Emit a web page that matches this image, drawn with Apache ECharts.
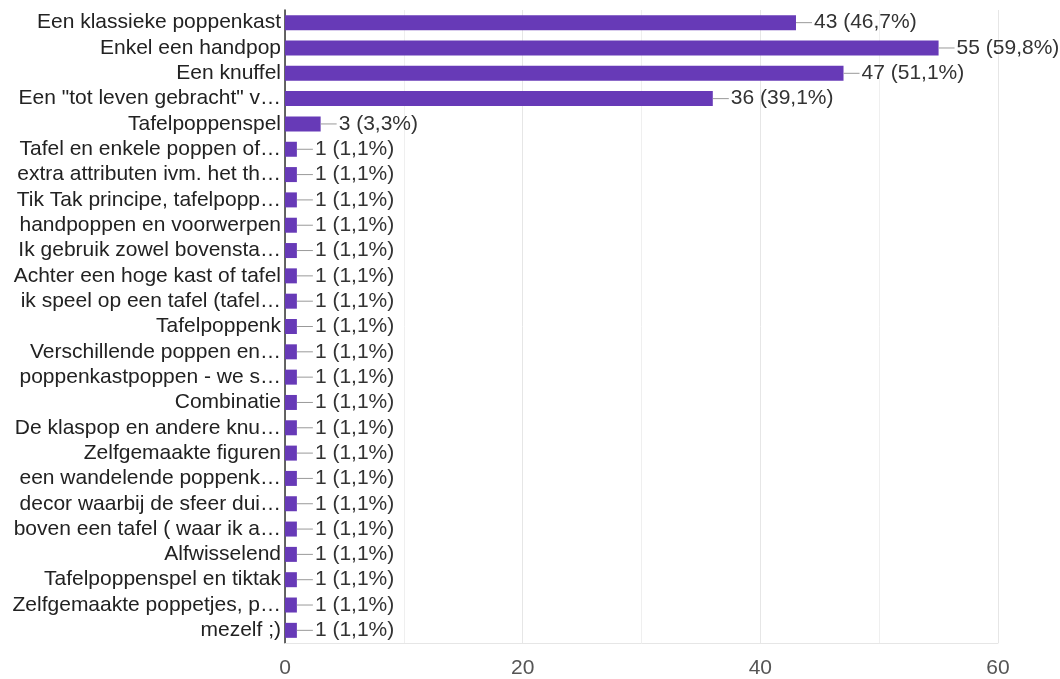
<!DOCTYPE html>
<html>
<head>
<meta charset="utf-8">
<script src="https://cdn.jsdelivr.net/npm/echarts@6/dist/echarts.min.js"></script>
<style>
  html, body { margin: 0; padding: 0; background: #fff; }
  #chart { width: 1060px; height: 679px; }
</style>
</head>
<body>
<div id="chart"></div>
<script>
// antwoorden (zoals ze in de grafiek staan, ingekort met …)
var categories = [
  'Een klassieke poppenkast',
  'Enkel een handpop',
  'Een knuffel',
  'Een "tot leven gebracht" v…',
  'Tafelpoppenspel',
  'Tafel en enkele poppen of…',
  'extra attributen ivm. het th…',
  'Tik Tak principe, tafelpopp…',
  'handpoppen en voorwerpen',
  'Ik gebruik zowel bovensta…',
  'Achter een hoge kast of tafel',
  'ik speel op een tafel (tafel…',
  'Tafelpoppenk',
  'Verschillende poppen en…',
  'poppenkastpoppen - we s…',
  'Combinatie',
  'De klaspop en andere knu…',
  'Zelfgemaakte figuren',
  'een wandelende poppenk…',
  'decor waarbij de sfeer dui…',
  'boven een tafel ( waar ik a…',
  'Alfwisselend',
  'Tafelpoppenspel en tiktak',
  'Zelfgemaakte poppetjes, p…',
  'mezelf ;)'
];
// aantal antwoorden
var counts = [43, 55, 47, 36, 3, 1, 1, 1, 1, 1, 1, 1, 1, 1, 1, 1, 1, 1, 1, 1, 1, 1, 1, 1, 1];
// percentages zoals getoond
var percents = ['46,7', '59,8', '51,1', '39,1', '3,3', '1,1', '1,1', '1,1', '1,1', '1,1', '1,1', '1,1', '1,1',
  '1,1', '1,1', '1,1', '1,1', '1,1', '1,1', '1,1', '1,1', '1,1', '1,1', '1,1', '1,1'];
var xTicks = [0, 20, 40, 60];

var font = '"Liberation Sans", Arial, sans-serif';

var option = {
  animation: false,
  grid: {
    left: 285,
    right: 62,
    top: 10,
    bottom: 35,
    containLabel: false
  },
  xAxis: {
    type: 'value',
    min: xTicks[0],
    max: xTicks[xTicks.length - 1],
    interval: 20,
    axisLine: { show: true, lineStyle: { color: '#e6e6e6', width: 1 } },
    axisTick: { show: false },
    axisLabel: {
      color: '#555',
      fontSize: 21,
      fontFamily: font,
      margin: 15
    },
    splitLine: { show: true, lineStyle: { color: '#e6e6e6', width: 1 } },
    minorTick: { show: false, splitNumber: 2 },
    minorSplitLine: { show: true, lineStyle: { color: '#efefef', width: 1 } }
  },
  yAxis: {
    type: 'category',
    inverse: true,
    data: categories,
    axisLine: { show: true, lineStyle: { color: '#333', width: 1.5 } },
    axisTick: { show: false },
    axisLabel: {
      interval: 0,
      color: '#222',
      fontSize: 21,
      fontFamily: font,
      margin: 4
    },
    splitLine: { show: false }
  },
  series: [
    {
      type: 'bar',
      data: counts,
      barWidth: 15,
      itemStyle: { color: '#673ab7' },
      label: {
        show: true,
        position: 'right',
        distance: 0,
        formatter: function (p) {
          return '{l| }{v|' + counts[p.dataIndex] + ' (' + percents[p.dataIndex] + '%)}';
        },
        rich: {
          l: { width: 16, height: 1, backgroundColor: '#999', verticalAlign: 'middle' },
          v: { color: '#333', fontSize: 21, fontFamily: font, padding: [0, 0, 0, 2] }
        }
      }
    }
  ]
};

var chart = echarts.init(document.getElementById('chart'));
chart.setOption(option);
window.onresize = function () {
  chart.resize();
};
</script>
</body>
</html>
